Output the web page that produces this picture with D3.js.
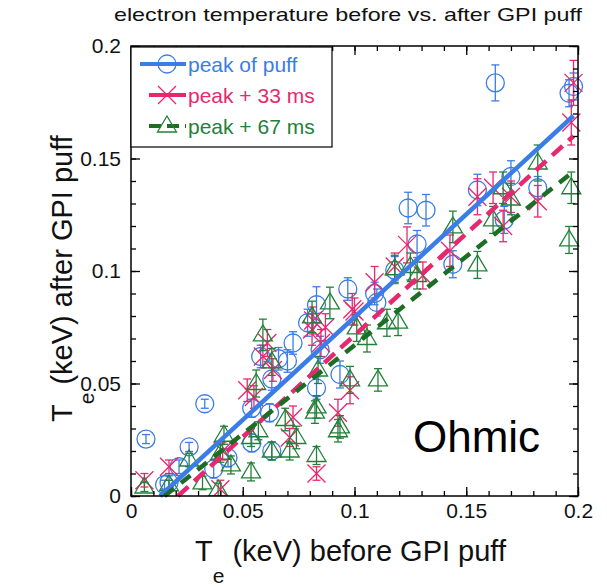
<!DOCTYPE html>
<html>
<head>
<meta charset="utf-8">
<script src="https://cdn.jsdelivr.net/npm/d3@7"></script>
<style>
  body { margin: 0; background: #fff; }
  text { font-family: "Liberation Sans", Arial, Helvetica, sans-serif; }
</style>
</head>
<body>
<div id="container"></div>
<script>
// [Te before, Te after, error] in keV
var peakPts = [
  [0.0067, 0.0253, 0.002], [0.026, 0.0218, 0.002], [0.033, 0.041, 0.002], [0.017, 0.006, 0.003],
  [0.0215, 0.013, 0.003], [0.0434, 0.017, 0.004], [0.037, 0.012, 0.004], [0.058, 0.062, 0.005],
  [0.070, 0.060, 0.005], [0.0725, 0.068, 0.005], [0.063, 0.052, 0.005], [0.054, 0.039, 0.004],
  [0.054, 0.0236, 0.004], [0.063, 0.020, 0.004], [0.079, 0.077, 0.006], [0.083, 0.085, 0.008],
  [0.097, 0.092, 0.005], [0.083, 0.048, 0.005], [0.0935, 0.054, 0.006], [0.0846, 0.065, 0.006],
  [0.163, 0.1836, 0.008], [0.198, 0.182, 0.006], [0.196, 0.179, 0.006], [0.155, 0.136, 0.007],
  [0.124, 0.128, 0.007], [0.132, 0.127, 0.007], [0.170, 0.142, 0.007], [0.182, 0.137, 0.005],
  [0.167, 0.1227, 0.006], [0.128, 0.112, 0.006], [0.144, 0.103, 0.006], [0.118, 0.1004, 0.006],
  [0.109, 0.090, 0.005], [0.110, 0.086, 0.006], [0.066, 0.061, 0.005], [0.062, 0.037, 0.004],
  [0.015, 0.005, 0.002]
];
var plus33Pts = [
  [0.006, 0.007, 0.003], [0.017, 0.013, 0.003], [0.040, 0.003, 0.004], [0.083, 0.010, 0.003],
  [0.0926, 0.037, 0.006], [0.0725, 0.035, 0.005], [0.071, 0.026, 0.004], [0.098, 0.047, 0.006],
  [0.061, 0.068, 0.006], [0.055, 0.044, 0.005], [0.081, 0.074, 0.007], [0.087, 0.075, 0.006],
  [0.099, 0.083, 0.007], [0.0635, 0.056, 0.005], [0.109, 0.095, 0.007], [0.1235, 0.1116, 0.008],
  [0.118, 0.102, 0.006], [0.100, 0.082, 0.006], [0.0815, 0.078, 0.006], [0.155, 0.133, 0.008],
  [0.1427, 0.109, 0.007], [0.1306, 0.098, 0.006], [0.198, 0.1836, 0.010], [0.197, 0.166, 0.010],
  [0.162, 0.137, 0.007], [0.170, 0.133, 0.007], [0.1665, 0.120, 0.007], [0.182, 0.131, 0.007],
  [0.052, 0.047, 0.005], [0.059, 0.062, 0.005], [0.041, 0.020, 0.004], [0.085, 0.068, 0.006]
];
var plus67Pts = [
  [0.006, 0.004, 0.002], [0.017, 0.005, 0.002], [0.026, 0.016, 0.003], [0.0416, 0.027, 0.004],
  [0.040, 0.019, 0.004], [0.0537, 0.0107, 0.004], [0.032, 0.0058, 0.003], [0.039, 0.0027, 0.003],
  [0.0447, 0.0138, 0.004], [0.0537, 0.026, 0.004], [0.083, 0.018, 0.004], [0.0926, 0.029, 0.005],
  [0.0823, 0.0373, 0.005], [0.069, 0.034, 0.005], [0.074, 0.026, 0.005], [0.063, 0.020, 0.004],
  [0.071, 0.020, 0.004], [0.057, 0.029, 0.004], [0.1105, 0.0516, 0.005], [0.059, 0.0716, 0.007],
  [0.056, 0.050, 0.006], [0.063, 0.0596, 0.006], [0.083, 0.0396, 0.005], [0.081, 0.0796, 0.007],
  [0.089, 0.0858, 0.007], [0.0837, 0.056, 0.006], [0.0935, 0.0307, 0.005], [0.098, 0.0516, 0.006],
  [0.118, 0.101, 0.006], [0.1195, 0.0773, 0.006], [0.1145, 0.077, 0.006], [0.1056, 0.070, 0.006],
  [0.101, 0.0747, 0.006], [0.144, 0.1196, 0.007], [0.155, 0.1027, 0.006], [0.125, 0.102, 0.006],
  [0.128, 0.098, 0.006], [0.182, 0.148, 0.008], [0.1665, 0.137, 0.007], [0.170, 0.132, 0.007],
  [0.162, 0.1227, 0.006], [0.197, 0.137, 0.007], [0.196, 0.1138, 0.006]
];
// linear fits, end points
var fitPeak = [[0.013, 0], [0.198, 0.169]];
var fit33 = [[0.021, 0], [0.198, 0.160]];
var fit67 = [[0.015, 0], [0.196, 0.1427]];

var seriesNames = ["peak of puff", "peak + 33 ms", "peak + 67 ms"];
var majorTicks = [0, 0.05, 0.1, 0.15, 0.2];
var tickLabels = ["0", "0.05", "0.1", "0.15", "0.2"];
var minorTicks = d3.range(0, 0.2001, 0.01);

var width = 607, height = 588;
var margin = { top: 46, right: 29, bottom: 92, left: 131 };
var blue = "#3b7de6", pink = "#e6286f", green = "#23803a", greenLine = "#1d6e24";

var x = d3.scaleLinear().domain([0, 0.2]).range([margin.left, width - margin.right]);
var y = d3.scaleLinear().domain([0, 0.2]).range([height - margin.bottom, margin.top]);

var svg = d3.select('#container').append('svg').attr('width', width).attr('height', height);

svg.append('defs').append('clipPath').attr('id', 'clip')
  .append('rect').attr('x', margin.left).attr('y', margin.top - 10)
  .attr('width', width - margin.left - margin.right + 8).attr('height', height - margin.top - margin.bottom + 10);

function drawMarker(g, kind, color) {
  if (kind == 'circle') {
    g.append('circle').attr('r', 9).attr('fill', 'none').attr('stroke', color).attr('stroke-width', 1.3);
  } else if (kind == 'cross') {
    g.append('path').attr('d', 'M-9,-9L9,9M-9,9L9,-9').attr('stroke', color).attr('stroke-width', 1.3);
  } else {
    g.append('path').attr('d', 'M0,-10L9.5,6L-9.5,6Z').attr('fill', 'none').attr('stroke', color).attr('stroke-width', 1.3);
  }
}

function drawSeries(pts, kind, color) {
  var grp = svg.append('g').attr('clip-path', 'url(#clip)');
  pts.forEach(function (d) {
    var g = grp.append('g');
    var px = x(d[0]), y0 = y(d[1] - d[2]), y1 = y(d[1] + d[2]);
    g.append('line').attr('x1', px).attr('x2', px).attr('y1', y0).attr('y2', y1).attr('stroke', color).attr('stroke-width', 1.3);
    g.append('line').attr('x1', px - 4).attr('x2', px + 4).attr('y1', y0).attr('y2', y0).attr('stroke', color).attr('stroke-width', 1.3);
    g.append('line').attr('x1', px - 4).attr('x2', px + 4).attr('y1', y1).attr('y2', y1).attr('stroke', color).attr('stroke-width', 1.3);
    var m = g.append('g').attr('transform', 'translate(' + px + ',' + y(d[1]) + ')');
    drawMarker(m, kind, color);
  });
}

drawSeries(peakPts, 'circle', blue);
drawSeries(plus33Pts, 'cross', pink);
drawSeries(plus67Pts, 'triangle', green);

var line = d3.line().x(function (d) { return x(d[0]); }).y(function (d) { return y(d[1]); });
svg.append('path').datum(fitPeak).attr('d', line).attr('stroke', blue).attr('stroke-width', 4.5).attr('fill', 'none');
svg.append('path').datum(fit33).attr('d', line).attr('stroke', pink).attr('stroke-width', 4.5).attr('fill', 'none').attr('stroke-dasharray', '14,8');
svg.append('path').datum(fit67).attr('d', line).attr('stroke', greenLine).attr('stroke-width', 4.5).attr('fill', 'none').attr('stroke-dasharray', '12,9');

// axes: ticks inside on all four sides
var ph = height - margin.top - margin.bottom, pw = width - margin.left - margin.right;
function axisGroup(axis, tx, ty) {
  var g = svg.append('g').attr('transform', 'translate(' + tx + ',' + ty + ')').call(axis);
  g.select('.domain').remove();
  g.selectAll('line').attr('stroke', '#000').attr('stroke-width', 1.3);
  g.selectAll('text').attr('font-size', 21).attr('fill', '#111').style('font-family', '"Liberation Sans", Arial, sans-serif');
  return g;
}
var fmt = function (d, i) { return tickLabels[i]; };
axisGroup(d3.axisBottom(x).tickValues(majorTicks).tickSize(-9).tickPadding(7).tickFormat(fmt), 0, height - margin.bottom);
axisGroup(d3.axisBottom(x).tickValues(minorTicks).tickSize(-5).tickFormat(''), 0, height - margin.bottom);
axisGroup(d3.axisTop(x).tickValues(majorTicks).tickSize(-9).tickFormat(''), 0, margin.top);
axisGroup(d3.axisTop(x).tickValues(minorTicks).tickSize(-5).tickFormat(''), 0, margin.top);
axisGroup(d3.axisLeft(y).tickValues(majorTicks).tickSize(-9).tickPadding(10).tickFormat(fmt), margin.left, 0);
axisGroup(d3.axisLeft(y).tickValues(minorTicks).tickSize(-5).tickFormat(''), margin.left, 0);
axisGroup(d3.axisRight(y).tickValues(majorTicks).tickSize(-9).tickFormat(''), width - margin.right, 0);
axisGroup(d3.axisRight(y).tickValues(minorTicks).tickSize(-5).tickFormat(''), width - margin.right, 0);

svg.append('rect').attr('x', margin.left).attr('y', margin.top).attr('width', pw).attr('height', ph)
  .attr('fill', 'none').attr('stroke', '#000').attr('stroke-width', 1.5);

// legend
var lg = svg.append('g');
lg.append('rect').attr('x', margin.left).attr('y', margin.top + 1).attr('width', 201).attr('height', 100)
  .attr('fill', '#fff').attr('stroke', '#000').attr('stroke-width', 1.2);
var legendRows = [
  { name: seriesNames[0], color: blue, lineColor: blue, kind: 'circle', dash: null, x1: 140 },
  { name: seriesNames[1], color: pink, lineColor: pink, kind: 'cross', dash: null, x1: 149 },
  { name: seriesNames[2], color: green, lineColor: greenLine, kind: 'triangle', dash: '12,6', x1: 149 }
];
legendRows.forEach(function (r, i) {
  var cy = 64 + i * 31;
  lg.append('line').attr('x1', r.x1).attr('x2', 186).attr('y1', cy).attr('y2', cy)
    .attr('stroke', r.lineColor).attr('stroke-width', 4).attr('stroke-dasharray', r.dash);
  var m = lg.append('g').attr('transform', 'translate(167,' + cy + ')');
  drawMarker(m, r.kind, r.color);
  lg.append('text').attr('x', 188).attr('y', cy + 8).attr('font-size', 21).attr('fill', r.color).text(r.name);
});

// titles
svg.append('text').attr('x', 348).attr('y', 21).attr('text-anchor', 'middle').attr('font-size', 19).attr('fill', '#111')
  .attr('textLength', 468).attr('lengthAdjust', 'spacingAndGlyphs')
  .text('electron temperature before vs. after GPI puff');

var xl = svg.append('text').attr('x', 195).attr('y', 561).attr('font-size', 29).attr('fill', '#111');
xl.append('tspan').text('T');
xl.append('tspan').attr('dy', 22).attr('font-size', 21).text('e');
xl.append('tspan').attr('dy', -22).text(' (keV) before GPI puff');

var yl = svg.append('text').attr('transform', 'translate(72,422) rotate(-90)').attr('font-size', 29).attr('fill', '#111');
yl.append('tspan').text('T');
yl.append('tspan').attr('dy', 22).attr('font-size', 21).text('e');
yl.append('tspan').attr('dy', -22).text(' (keV) after GPI puff');

svg.append('text').attr('x', 413).attr('y', 452).attr('font-size', 44).attr('fill', '#000').text('Ohmic');
</script>
</body>
</html>
